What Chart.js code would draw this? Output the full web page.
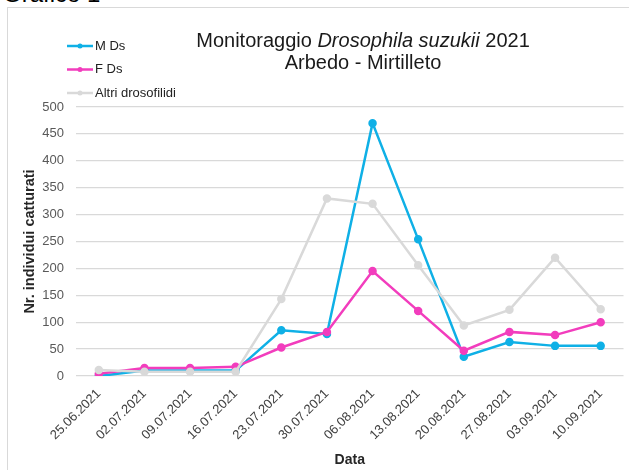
<!DOCTYPE html>
<html>
<head>
<meta charset="utf-8">
<script src="https://cdn.jsdelivr.net/npm/chart.js@4.4.1/dist/chart.umd.min.js"></script>
<style>
  html, body { margin: 0; padding: 0; background: #fff; }
  #wrap { position: relative; width: 629px; height: 470px; overflow: hidden; font-family: "Liberation Sans", Arial, sans-serif; }
  #frame { position: absolute; left: 7px; top: 7px; width: 640px; height: 480px; border: 1px solid #d9d9d9; }
  #fig { position: absolute; left: 3px; top: -20px; font-size: 24px; color: #000; }
  #title { position: absolute; left: 113px; width: 500px; top: 29px; text-align: center; font-size: 20px; line-height: 22px; color: #1a1a1a; }
  canvas { position: absolute; left: 0; top: 0; }
</style>
</head>
<body>
<div id="wrap">
  <div id="frame"></div>
  <div id="fig">Grafico 1</div>
  <canvas id="trapChart" width="629" height="470"></canvas>
  <div id="title">Monitoraggio <i>Drosophila suzukii</i> 2021<br>Arbedo - Mirtilleto</div>
</div>
<script>
const dates = ["25.06.2021", "02.07.2021", "09.07.2021", "16.07.2021", "23.07.2021", "30.07.2021",
  "06.08.2021", "13.08.2021", "20.08.2021", "27.08.2021", "03.09.2021", "10.09.2021"];
const maleDs = [0, 10, 10, 10, 85, 78, 470, 254, 36, 63, 56, 56];
const femaleDs = [4, 15, 15, 17, 53, 82, 195, 121, 47, 82, 76, 100];
const otherFlies = [11, 8, 8, 8, 143, 330, 320, 206, 94, 123, 220, 124];
const yTicks = [0, 50, 100, 150, 200, 250, 300, 350, 400, 450, 500];

const fontFam = '"Liberation Sans", Arial, sans-serif';

// legend drawn in the top-left corner, one row per series
const sideLegend = {
  id: "sideLegend",
  afterDraw(chart) {
    const ctx = chart.ctx;
    ctx.save();
    chart.data.datasets.forEach((ds, i) => {
      const y = 46 + i * 23.5;
      ctx.strokeStyle = ds.borderColor;
      ctx.lineWidth = 2.5;
      ctx.beginPath();
      ctx.moveTo(67, y);
      ctx.lineTo(93, y);
      ctx.stroke();
      ctx.fillStyle = ds.borderColor;
      ctx.beginPath();
      ctx.arc(80, y, 2.5, 0, Math.PI * 2);
      ctx.fill();
      ctx.fillStyle = "#222";
      ctx.font = "13px " + fontFam;
      ctx.textBaseline = "middle";
      ctx.fillText(ds.label, 95, y);
    });
    ctx.restore();
  }
};

// order: lower is drawn on top, so the last series sits above the others
const makeSet = (label, data, color, order) => ({
  label: label,
  data: data,
  order: order,
  borderColor: color,
  backgroundColor: color,
  borderWidth: 2.5,
  pointRadius: 3,
  pointHoverRadius: 3,
  tension: 0
});

new Chart(document.getElementById("trapChart"), {
  type: "line",
  data: {
    labels: dates,
    datasets: [
      makeSet("M Ds", maleDs, "#0fb0e6", 2),
      makeSet("F Ds", femaleDs, "#f23dbd", 1),
      makeSet("Altri drosofilidi", otherFlies, "#d9d9d9", 0)
    ]
  },
  options: {
    responsive: false,
    animation: false,
    layout: { padding: { left: 21, right: 0, top: 107, bottom: 1 } },
    plugins: { legend: { display: false }, title: { display: false }, tooltip: { enabled: false } },
    scales: {
      x: {
        offset: true,
        grid: { display: false },
        border: { display: false },
        ticks: {
          color: "#404040",
          font: { family: fontFam, size: 13 },
          minRotation: 45,
          maxRotation: 45,
          padding: 2
        },
        title: {
          display: true,
          text: "Data",
          color: "#262626",
          font: { family: fontFam, size: 14, weight: "bold" },
          padding: { top: 0, bottom: 0 }
        },
        afterFit: scale => { scale.height = 93; }
      },
      y: {
        min: 0,
        max: 500,
        afterBuildTicks: scale => { scale.ticks = yTicks.map(v => ({ value: v })); },
        grid: { color: "#d9d9d9", lineWidth: 1.3, drawTicks: false },
        border: { display: false },
        ticks: {
          color: "#595959",
          font: { family: fontFam, size: 13 },
          padding: 12
        },
        title: {
          display: true,
          text: "Nr. individui catturati",
          color: "#262626",
          font: { family: fontFam, size: 14.5, weight: "bold" },
          padding: { top: 0, bottom: 0 }
        },
        afterFit: scale => { scale.width = 55; }
      }
    }
  },
  plugins: [sideLegend]
});
</script>
</body>
</html>
